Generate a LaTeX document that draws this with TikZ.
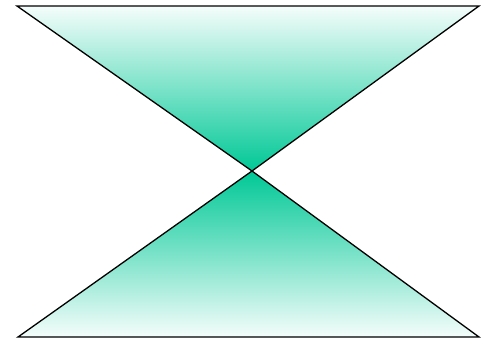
\documentclass[tikz,border=0pt]{standalone}
\begin{document}
\begin{tikzpicture}[x=1pt,y=-1pt,
  tri/.style={draw=black,line width=1.3pt,line join=miter}]
\definecolor{hg}{RGB}{0,200,150}
\useasboundingbox (0,0) rectangle (481,340);
\coordinate (tl) at (17,6);
\coordinate (tr) at (479,6);
\coordinate (c) at (252,171);
\coordinate (bl) at (18,337);
\coordinate (br) at (479,337);
\shade[top color=hg!4, bottom color=hg] (tl) -- (tr) -- (c) -- cycle;
\shade[top color=hg, bottom color=hg!4] (c) -- (br) -- (bl) -- cycle;
\draw[tri] (tl) -- (tr) -- (c) -- cycle;
\draw[tri] (c) -- (br) -- (bl) -- cycle;
\end{tikzpicture}
\end{document}
